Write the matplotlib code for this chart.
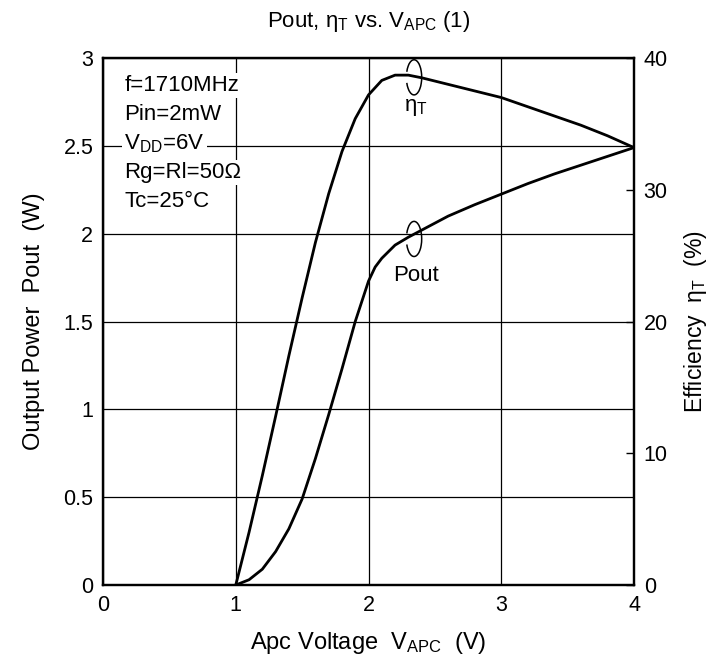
import matplotlib
matplotlib.use("Agg")
import matplotlib.pyplot as plt
from matplotlib.patches import Arc

plt.rcParams['font.family'] = ['Liberation Sans', 'DejaVu Sans']
plt.rcParams['mathtext.fontset'] = 'custom'
plt.rcParams['mathtext.rm'] = 'Liberation Sans'
plt.rcParams['mathtext.it'] = 'Liberation Sans:italic'

# Data
v_pout = [1.0, 1.1, 1.2, 1.3, 1.4, 1.5, 1.6, 1.7, 1.8, 1.9, 2.0, 2.05, 2.1, 2.2,
          2.3, 2.4, 2.6, 2.8, 3.0, 3.2, 3.4, 3.6, 3.8, 4.0]
pout = [0.0, 0.03, 0.09, 0.19, 0.32, 0.49, 0.72, 0.97, 1.23, 1.50, 1.73, 1.81,
        1.86, 1.935, 1.98, 2.02, 2.10, 2.165, 2.225, 2.285, 2.34, 2.39, 2.44, 2.49]

v_eff = [1.0, 1.1, 1.2, 1.3, 1.4, 1.5, 1.6, 1.7, 1.8, 1.9, 2.0, 2.1, 2.2,
         2.3, 2.4, 2.6, 2.8, 3.0, 3.2, 3.4, 3.6, 3.8, 4.0]
eff = [0.0, 4.0, 8.3, 12.8, 17.4, 21.8, 26.0, 29.7, 32.9, 35.4, 37.2, 38.3,
       38.7, 38.7, 38.5, 38.0, 37.5, 37.0, 36.3, 35.6, 34.9, 34.1, 33.2]

x_ticks = [0, 1, 2, 3, 4]
y_ticks = [0, 0.5, 1, 1.5, 2, 2.5, 3]
y_tick_labels = ['0', '0.5', '1', '1.5', '2', '2.5', '3']
y2_ticks = [0, 10, 20, 30, 40]

conditions = ["f=1710MHz", "Pin=2mW", "V$_{\\mathrm{DD}}$=6V", "Rg=Rl=50Ω", "Tc=25°C"]

fig = plt.figure(figsize=(7.24, 6.66), dpi=100)
ax = fig.add_axes([0.1423, 0.1216, 0.7334, 0.7913])
ax2 = ax.twinx()

ax.set_xlim(0, 4)
ax.set_ylim(0, 3)
ax2.set_ylim(0, 40)

ax.set_xticks(x_ticks)
ax.set_yticks(y_ticks)
ax.set_yticklabels(y_tick_labels)
ax2.set_yticks(y2_ticks)

ax.grid(True, color='black', linewidth=0.9)
ax.set_axisbelow(True)
ax.tick_params(axis='both', length=0, labelsize=15.5, pad=7)
ax2.tick_params(axis='y', direction='in', length=6, width=1, labelsize=15.5, pad=7)

for a in (ax, ax2):
    for s in a.spines.values():
        s.set_linewidth(1.6)

ax.plot(v_pout, pout, color='black', linewidth=2.0, zorder=3)
ax2.plot(v_eff, eff, color='black', linewidth=2.0, zorder=3)

# open loop markers
ax.add_patch(Arc((2.343, 2.89), 0.115, 0.20, theta1=-150, theta2=150,
                 color='black', linewidth=1.1, zorder=4))
ax.add_patch(Arc((2.343, 1.97), 0.115, 0.20, theta1=-150, theta2=150,
                 color='black', linewidth=1.1, zorder=4))
ax.text(2.36, 2.72, "η$_{\\mathrm{T}}$", ha='center', va='center', fontsize=16, zorder=5)
ax.text(2.36, 1.76, "Pout", ha='center', va='center', fontsize=16, zorder=5)

# condition text block
y0 = 2.845
for i, line in enumerate(conditions):
    ax.text(0.16, y0 - i * 0.165, line, ha='left', va='center', fontsize=16,
            zorder=5, bbox=dict(facecolor='white', edgecolor='none', pad=1.5))

ax.set_xlabel("Apc Voltage  V$_{\\mathrm{APC}}$  (V)", fontsize=17, labelpad=10)
ax.set_ylabel("Output Power  Pout  (W)", fontsize=17, labelpad=13)
ax2.set_ylabel("Efficiency  η$_{\\mathrm{T}}$  (%)", fontsize=16.5, labelpad=10)
ax.set_title("Pout, η$_{\\mathrm{T}}$ vs. V$_{\\mathrm{APC}}$ (1)", fontsize=16, pad=22)

fig.savefig("out.png", dpi=100)
